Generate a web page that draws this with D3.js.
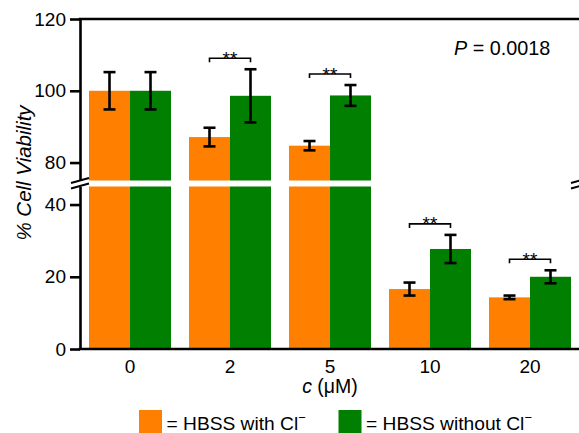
<!DOCTYPE html>
<html><head><meta charset="utf-8">
<script src="https://cdn.jsdelivr.net/npm/d3@7"></script>
<style>
html,body{margin:0;padding:0;background:#fff;}
text{font-family:"Liberation Sans",Arial,sans-serif;fill:#000;}
</style></head>
<body>
<svg id="chart" width="579" height="433"></svg>
<script>
const categories = ["0", "2", "5", "10", "20"];
const withCl = [100, 87.1, 84.7, 16.6, 14.3];
const withClErr = [5.2, 2.6, 1.3, 1.8, 0.5];
const withoutCl = [100, 98.6, 98.7, 27.7, 20.0];
const withoutClErr = [5.2, 7.4, 2.9, 3.9, 1.8];
const significance = ["", "**", "**", "**", "**"];
const yTicksUpper = [80, 100, 120];
const yTicksLower = [0, 20, 40];
const seriesNames = ["= HBSS with Cl", "= HBSS without Cl"];
const colors = ["#FF8000", "#007F00"];

const svg = d3.select("#chart");
const mLeft = 80, mRight = 580, mTop = 19, mBottom = 349;
const breakLow = 45, breakHigh = 75;

const x = d3.scaleBand().domain(categories).range([mLeft, mRight]).paddingInner(0.18).paddingOuter(0.09);
const sub = d3.scaleBand().domain([0, 1]).range([0, x.bandwidth()]);
const yU = d3.scaleLinear().domain([breakHigh, 120]).range([180.5, mTop]);
const yL = d3.scaleLinear().domain([0, breakLow]).range([mBottom, 186.5]);
const yPix = v => v >= breakHigh ? yU(v) : yL(Math.min(v, breakLow));

const series = [
  {vals: withCl, errs: withClErr},
  {vals: withoutCl, errs: withoutClErr}
];

// bars
series.forEach((s, si) => {
  const g = svg.append("g");
  categories.forEach((c, i) => {
    const v = s.vals[i];
    const bx = x(c) + sub(si);
    const bw = sub.bandwidth();
    g.append("rect").attr("x", bx).attr("width", bw)
      .attr("y", yL(Math.min(v, breakLow))).attr("height", yL(0) - yL(Math.min(v, breakLow)))
      .attr("fill", colors[si]);
    if (v > breakHigh) {
      g.append("rect").attr("x", bx).attr("width", bw)
        .attr("y", yU(v)).attr("height", yU(breakHigh) - yU(v))
        .attr("fill", colors[si]);
    }
  });
});

// error bars
series.forEach((s, si) => {
  categories.forEach((c, i) => {
    const cx = x(c) + sub(si) + sub.bandwidth() / 2;
    const y1 = yPix(s.vals[i] + s.errs[i]);
    const y2 = yPix(s.vals[i] - s.errs[i]);
    const g = svg.append("g").attr("stroke", "#000").attr("stroke-width", 2.6);
    g.append("line").attr("x1", cx).attr("x2", cx).attr("y1", y1).attr("y2", y2);
    g.append("line").attr("x1", cx - 6).attr("x2", cx + 6).attr("y1", y1).attr("y2", y1);
    g.append("line").attr("x1", cx - 6).attr("x2", cx + 6).attr("y1", y2).attr("y2", y2);
  });
});

// significance brackets
categories.forEach((c, i) => {
  if (!significance[i]) return;
  const x1 = x(c) + sub(0) + sub.bandwidth() / 2;
  const x2 = x(c) + sub(1) + sub.bandwidth() / 2;
  const topY = Math.min(yPix(withCl[i] + withClErr[i]), yPix(withoutCl[i] + withoutClErr[i])) - 11;
  svg.append("path")
    .attr("d", `M${x1},${topY + 4}V${topY}H${x2}V${topY + 4}`)
    .attr("fill", "none").attr("stroke", "#000").attr("stroke-width", 1.6);
  svg.append("text").attr("x", (x1 + x2) / 2).attr("y", topY + 6.5)
    .attr("text-anchor", "middle").attr("font-size", 19).text(significance[i]);
});

// axes
const styleAxis = g => {
  g.selectAll(".domain").attr("stroke", "#000").attr("stroke-width", 2.6);
  g.selectAll(".tick line").attr("stroke", "#000").attr("stroke-width", 2.6);
  g.selectAll(".tick text").attr("font-size", 19).attr("font-family", "Liberation Sans, Arial, sans-serif");
};
svg.append("g").attr("transform", `translate(${mLeft},0)`)
  .call(d3.axisLeft(yU).tickValues(yTicksUpper).tickSize(10).tickSizeOuter(0).tickPadding(4))
  .call(styleAxis);
svg.append("g").attr("transform", `translate(${mLeft},0)`)
  .call(d3.axisLeft(yL).tickValues(yTicksLower).tickSize(10).tickSizeOuter(0).tickPadding(4))
  .call(styleAxis);

// top border and x axis line
svg.append("line").attr("x1", mLeft - 1.3).attr("x2", 600).attr("y1", mTop).attr("y2", mTop)
  .attr("stroke", "#000").attr("stroke-width", 2.6);
svg.append("line").attr("x1", mLeft - 1.3).attr("x2", 600).attr("y1", mBottom).attr("y2", mBottom)
  .attr("stroke", "#000").attr("stroke-width", 2.6);

// break marks
[mLeft, mRight].forEach(bx => {
  const g = svg.append("g").attr("stroke", "#000").attr("stroke-width", 2);
  const cy = (yU(breakHigh) + yL(breakLow)) / 2;
  g.append("line").attr("x1", bx - 9).attr("x2", bx + 9).attr("y1", cy - 0.5).attr("y2", cy - 5.5);
  g.append("line").attr("x1", bx - 9).attr("x2", bx + 9).attr("y1", cy + 5).attr("y2", cy);
});

// x labels
svg.append("g").selectAll("text").data(categories).join("text")
  .attr("x", d => x(d) + x.bandwidth() / 2).attr("y", 373)
  .attr("text-anchor", "middle").attr("font-size", 19).text(d => d);

const xt = svg.append("text").attr("x", 330).attr("y", 393).attr("text-anchor", "middle").attr("font-size", 19.5);
xt.append("tspan").attr("font-style", "italic").text("c");
xt.append("tspan").text(" (\u03BCM)");

// y label
svg.append("text").attr("transform", "translate(31,173) rotate(-90)")
  .attr("text-anchor", "middle").attr("font-size", 20.5).attr("font-style", "italic")
  .text("% Cell Viability");

// P value
const pt = svg.append("text").attr("x", 454).attr("y", 55).attr("font-size", 19.8);
pt.append("tspan").attr("font-style", "italic").text("P");
pt.append("tspan").text(" = 0.0018");

// legend
const legX = [139, 338.5];
seriesNames.forEach((n, i) => {
  svg.append("rect").attr("x", legX[i]).attr("y", 410).attr("width", 23).attr("height", 26).attr("fill", colors[i]);
  const t = svg.append("text").attr("x", legX[i] + 27.5).attr("y", 430).attr("font-size", 19.2);
  t.append("tspan").text(n);
  t.append("tspan").attr("dy", -8).attr("font-size", 13).text("\u2212");
});
</script>
</body></html>
